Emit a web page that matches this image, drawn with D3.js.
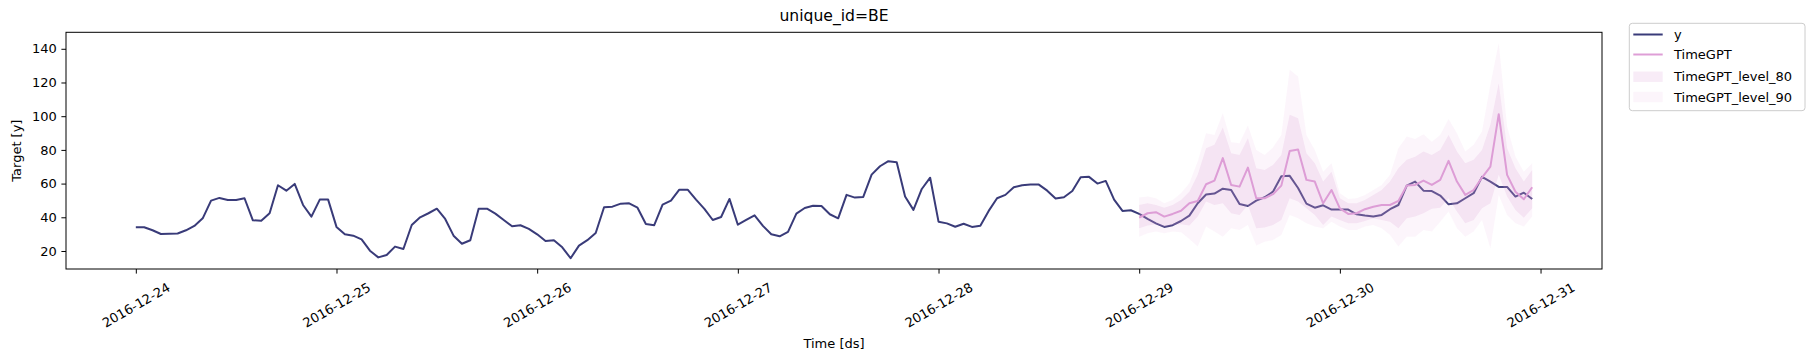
<!DOCTYPE html>
<html>
<head>
<meta charset="utf-8">
<script src="https://cdn.jsdelivr.net/npm/d3@7"></script>
<style>
  body { margin: 0; background: #fff; }
  svg text { font-family: "DejaVu Sans", sans-serif; fill: #000; }
</style>
</head>
<body>
<div id="chart"></div>
<script>
// hourly series for BE, first stamp is 2016-12-24 00:00
var startTime = Date.UTC(2016, 11, 24, 0);

var yValues = [
  34.1, 34.1, 32.3, 30.1, 30.2, 30.4, 32.3, 34.9, 39.4, 49.9,
  51.5, 50.3, 50.3, 51.3, 38.2, 38.0, 42.4, 59.0, 55.8, 59.8,
  47.3, 40.4, 50.5, 50.5, 34.3, 29.9, 29.1, 26.9, 20.2, 16.2,
  17.6, 22.6, 21.2, 35.4, 40.0, 42.4, 45.1, 39.0, 29.1, 24.3,
  26.4, 45.1, 45.1, 42.2, 38.4, 34.7, 35.3, 33.1, 29.9, 25.9,
  26.4, 22.2, 15.7, 23.2, 26.4, 30.7, 46.0, 46.3, 48.1, 48.3,
  45.7, 36.0, 35.3, 47.5, 49.9, 56.4, 56.4, 50.5, 45.0, 38.4,
  40.2, 50.9, 35.6, 38.4, 41.2, 34.9, 29.9, 28.7, 31.3, 42.2,
  45.5, 46.9, 46.7, 41.8, 39.4, 53.3, 51.7, 52.1, 65.3, 70.3,
  73.3, 72.7, 52.3, 44.4, 56.8, 63.5, 37.4, 36.4, 34.4, 36.2,
  34.3, 35.0, 43.8, 51.3, 53.3, 57.8, 59.0, 59.4, 59.4, 55.8,
  51.1, 51.9, 55.6, 63.8, 64.0, 60.0, 61.6, 50.5, 43.8, 44.2,
  42.0, 39.0, 36.4, 34.3, 35.3, 37.8, 41.0, 48.3, 53.5, 54.1,
  57.0, 56.2, 47.9, 46.7, 49.9, 51.9, 55.2, 64.4, 64.6, 57.4,
  48.1, 45.7, 47.1, 44.6, 44.6, 44.6, 41.8, 41.0, 40.5, 41.4,
  44.8, 47.3, 58.8, 61.2, 55.8, 55.6, 52.9, 47.7, 48.3, 51.3,
  54.3, 64.0, 61.2, 58.0, 58.0, 52.3, 54.6, 50.9
];

// forecast window starts at hour 120 (2016-12-29 00:00)
var fcStart = 120;

var timeGPT = [
  39.8, 42.4, 43.0, 40.4, 42.0, 43.9, 48.3, 49.7, 59.6, 61.8,
  75.1, 59.2, 58.2, 69.5, 51.3, 51.3, 53.7, 58.8, 79.4, 80.2,
  62.2, 61.2, 48.3, 56.2, 45.3, 42.0, 42.4, 44.8, 46.3, 47.3,
  47.3, 49.7, 58.8, 59.2, 61.8, 59.2, 62.2, 73.5, 61.2, 53.3,
  56.2, 63.6, 70.1, 101.2, 65.2, 55.2, 50.7, 57.8
];
var hi80 = [
  47.3, 48.3, 47.3, 45.7, 47.3, 50.3, 55.2, 65.2, 81.0, 83.0,
  93.3, 78.0, 77.0, 86.9, 69.1, 68.1, 71.1, 77.0, 100.8, 98.8,
  78.0, 72.1, 61.2, 67.1, 51.3, 48.3, 48.3, 50.3, 53.3, 56.2,
  61.2, 69.1, 74.1, 76.0, 79.0, 77.0, 80.0, 88.9, 79.0, 72.1,
  74.1, 80.0, 94.9, 119.6, 81.0, 69.1, 61.2, 68.1
];
var lo80 = [
  33.5, 35.1, 35.8, 34.4, 35.4, 35.8, 35.1, 40.4, 49.3, 47.3,
  48.3, 42.4, 41.4, 47.3, 33.5, 33.9, 35.4, 38.4, 51.3, 49.3,
  45.3, 41.4, 35.4, 40.4, 38.4, 36.4, 36.4, 37.8, 39.4, 38.4,
  37.4, 33.5, 39.4, 40.4, 42.4, 45.0, 45.7, 51.3, 43.4, 36.4,
  38.4, 45.3, 48.3, 65.2, 52.3, 44.4, 39.8, 45.3
];
var hi90 = [
  51.7, 52.3, 51.3, 48.3, 50.3, 54.3, 60.2, 73.1, 89.9, 88.9,
  101.8, 84.6, 84.0, 94.5, 80.0, 77.0, 81.4, 88.9, 127.5, 123.6,
  88.9, 80.0, 67.1, 72.1, 54.3, 50.9, 51.3, 53.3, 56.2, 59.2,
  65.2, 81.0, 87.9, 86.5, 89.3, 84.9, 88.9, 98.4, 89.9, 79.0,
  83.0, 90.9, 118.6, 143.4, 93.9, 76.0, 67.1, 72.1
];
var lo90 = [
  28.5, 30.5, 31.5, 30.5, 31.5, 31.1, 27.1, 22.6, 34.5, 31.5,
  28.5, 33.5, 32.5, 35.4, 23.2, 25.5, 26.5, 29.5, 41.4, 39.4,
  36.4, 34.5, 33.5, 37.4, 34.5, 32.5, 32.5, 34.5, 35.4, 33.5,
  29.5, 22.6, 28.5, 28.5, 32.5, 31.5, 37.4, 43.4, 33.5, 28.5,
  31.5, 38.4, 21.6, 53.3, 41.4, 36.4, 34.5, 40.4
];

var xTickDates = ["2016-12-24", "2016-12-25", "2016-12-26", "2016-12-27",
                  "2016-12-28", "2016-12-29", "2016-12-30", "2016-12-31"];
var yTicks = [20, 40, 60, 80, 100, 120, 140];

var lineColor = "#393b79";
var fcColor = "#de9ed6";

var W = 1815, H = 361;
var plot = {left: 66, right: 1602, top: 32.3, bottom: 269};
var fontSize = "13px";

function hourDate(i) { return new Date(startTime + i * 3600 * 1000); }

var series = yValues.map(function(v, i) { return {ds: hourDate(i), y: v}; });
var fc = timeGPT.map(function(v, i) {
  return {ds: hourDate(fcStart + i), f: v,
          lo80: lo80[i], hi80: hi80[i], lo90: lo90[i], hi90: hi90[i]};
});

var svg = d3.select("#chart").append("svg")
  .attr("width", W)
  .attr("height", H);

// matplotlib style 5% margins on both axes
var t0 = series[0].ds.getTime(), t1 = series[series.length - 1].ds.getTime();
var tPad = (t1 - t0) * 0.05;
var x = d3.scaleUtc()
  .domain([new Date(t0 - tPad), new Date(t1 + tPad)])
  .range([plot.left, plot.right]);

var allVals = yValues.concat(lo90, hi90);
var vMin = d3.min(allVals), vMax = d3.max(allVals);
var vPad = (vMax - vMin) * 0.05;
var y = d3.scaleLinear()
  .domain([vMin - vPad, vMax + vPad])
  .range([plot.bottom, plot.top]);

// lines
var line = d3.line().x(function(d) { return x(d.ds); });

svg.append("path")
  .datum(series)
  .attr("fill", "none")
  .attr("stroke", lineColor)
  .attr("stroke-width", 2)
  .attr("stroke-linejoin", "round")
  .attr("d", line.y(function(d) { return y(d.y); }));

svg.append("path")
  .datum(fc)
  .attr("fill", "none")
  .attr("stroke", fcColor)
  .attr("stroke-width", 2)
  .attr("stroke-linejoin", "round")
  .attr("d", line.y(function(d) { return y(d.f); }));

// interval bands, 80 then 90 on top
[["lo80", "hi80", 0.2], ["lo90", "hi90", 0.1]].forEach(function(b) {
  var area = d3.area()
    .x(function(d) { return x(d.ds); })
    .y0(function(d) { return y(d[b[0]]); })
    .y1(function(d) { return y(d[b[1]]); });
  svg.append("path")
    .datum(fc)
    .attr("fill", fcColor)
    .attr("fill-opacity", b[2])
    .attr("d", area);
});

// x axis
var fmt = d3.utcFormat("%Y-%m-%d");
var xAxis = svg.append("g")
  .attr("transform", "translate(0," + plot.bottom + ")")
  .call(d3.axisBottom(x)
    .tickValues(xTickDates.map(function(s) { return new Date(s + "T00:00:00Z"); }))
    .tickFormat(fmt)
    .tickSize(4.6)
    .tickSizeOuter(0));
xAxis.select(".domain").remove();
xAxis.selectAll("line").attr("stroke", "#000").attr("stroke-width", 1);
xAxis.selectAll("text")
  .attr("font-family", "DejaVu Sans")
  .style("font-size", fontSize)
  .attr("text-anchor", "middle")
  .attr("y", 0)
  .attr("dy", "0.32em")
  .attr("transform", "translate(0,36.5) rotate(-30)");

// y axis
var yAxis = svg.append("g")
  .attr("transform", "translate(" + plot.left + ",0)")
  .call(d3.axisLeft(y)
    .tickValues(yTicks)
    .tickSize(4.6)
    .tickPadding(4.6)
    .tickSizeOuter(0));
yAxis.select(".domain").remove();
yAxis.selectAll("line").attr("stroke", "#000").attr("stroke-width", 1);
yAxis.selectAll("text")
  .attr("font-family", "DejaVu Sans")
  .style("font-size", fontSize);

// frame
svg.append("rect")
  .attr("x", plot.left)
  .attr("y", plot.top)
  .attr("width", plot.right - plot.left)
  .attr("height", plot.bottom - plot.top)
  .attr("fill", "none")
  .attr("stroke", "#000")
  .attr("stroke-width", 1);

// title and labels
svg.append("text")
  .attr("x", (plot.left + plot.right) / 2)
  .attr("y", 20.5)
  .attr("text-anchor", "middle")
  .style("font-size", "15.6px")
  .text("unique_id=BE");

svg.append("text")
  .attr("x", (plot.left + plot.right) / 2)
  .attr("y", 343)
  .attr("dy", "0.35em")
  .attr("text-anchor", "middle")
  .style("font-size", fontSize)
  .text("Time [ds]");

svg.append("text")
  .attr("transform", "translate(16," + (plot.top + plot.bottom) / 2 + ") rotate(-90)")
  .attr("dy", "0.35em")
  .attr("text-anchor", "middle")
  .style("font-size", fontSize)
  .text("Target [y]");

// legend
var legend = svg.append("g");
legend.append("rect")
  .attr("x", 1629.3).attr("y", 23.3)
  .attr("width", 175.7).attr("height", 87.4)
  .attr("rx", 3)
  .attr("fill", "#fff").attr("fill-opacity", 0.8)
  .attr("stroke", "#cccccc").attr("stroke-width", 1);

var legendItems = [
  {label: "y", kind: "line", color: lineColor, op: 1, cy: 34.5},
  {label: "TimeGPT", kind: "line", color: fcColor, op: 1, cy: 54.5},
  {label: "TimeGPT_level_80", kind: "patch", color: fcColor, op: 0.2, cy: 76.7},
  {label: "TimeGPT_level_90", kind: "patch", color: fcColor, op: 0.1, cy: 97}
];
legendItems.forEach(function(d) {
  if (d.kind === "line") {
    legend.append("line")
      .attr("x1", 1633.3).attr("x2", 1662.7)
      .attr("y1", d.cy).attr("y2", d.cy)
      .attr("stroke", d.color).attr("stroke-width", 2);
  } else {
    legend.append("rect")
      .attr("x", 1633.3).attr("y", d.cy - 5.2)
      .attr("width", 29.4).attr("height", 10.4)
      .attr("fill", d.color).attr("fill-opacity", d.op);
  }
  legend.append("text")
    .attr("x", 1674)
    .attr("y", d.cy)
    .attr("dy", "0.35em")
    .style("font-size", fontSize)
    .text(d.label);
});
</script>
</body>
</html>
